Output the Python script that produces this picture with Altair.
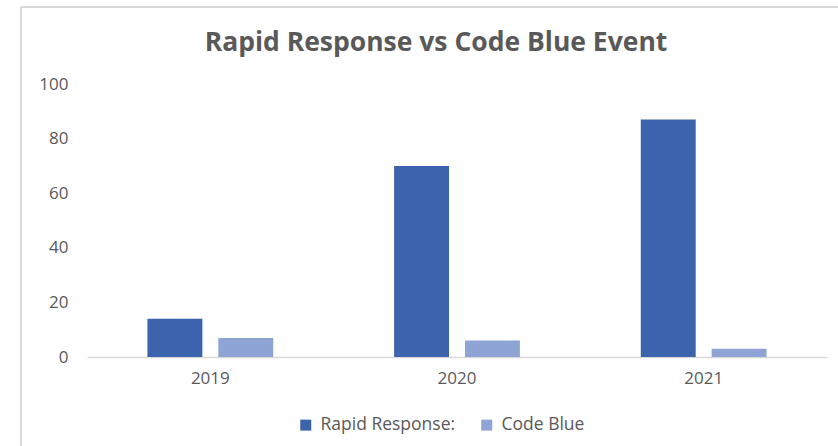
import altair as alt
import pandas as pd

# Yearly event counts
years = ["2019", "2020", "2021"]
rapid_response = [14, 70, 87]
code_blue = [7, 6, 3]
series_names = ["Rapid Response:", "Code Blue"]
series_colors = ["#3c64ac", "#8ea4d4"]

rows = []
for i, yr in enumerate(years):
    rows.append({"Year": yr, "Series": series_names[0], "Count": rapid_response[i]})
    rows.append({"Year": yr, "Series": series_names[1], "Count": code_blue[i]})
df = pd.DataFrame(rows)

FONT = "Open Sans"
GREY_TEXT = "#595959"
FRAME = "#d9d9d9"

bars = alt.Chart(df).mark_bar().encode(
    x=alt.X(
        "Year:N",
        sort=years,
        title=None,
        scale=alt.Scale(paddingInner=0.49, paddingOuter=0.245),
        axis=alt.Axis(
            labelAngle=0,
            ticks=False,
            domainColor=FRAME,
            domainWidth=1.5,
            labelColor=GREY_TEXT,
            labelFont=FONT,
            labelFontSize=17,
            labelPadding=13,
        ),
    ),
    xOffset=alt.XOffset(
        "Series:N",
        sort=series_names,
        scale=alt.Scale(paddingInner=0.225, paddingOuter=0),
    ),
    y=alt.Y(
        "Count:Q",
        title=None,
        scale=alt.Scale(domain=[0, 100]),
        axis=alt.Axis(
            values=[0, 20, 40, 60, 80, 100],
            grid=False,
            ticks=False,
            domain=False,
            labelColor=GREY_TEXT,
            labelFont=FONT,
            labelFontSize=17,
            labelPadding=19,
        ),
    ),
    color=alt.Color(
        "Series:N",
        sort=series_names,
        scale=alt.Scale(domain=series_names, range=series_colors),
        legend=alt.Legend(
            title=None,
            orient="none",
            legendX=210,
            legendY=332,
            direction="horizontal",
            symbolType="square",
            symbolSize=121,
            symbolStrokeWidth=0,
            labelFont=FONT,
            labelFontSize=17.5,
            labelColor=GREY_TEXT,
            labelOffset=6,
            columnPadding=22,
        ),
    ),
)

# Chart-area frame along the left and top edges
frame_left = alt.Chart(df).mark_rule(color=FRAME, strokeWidth=2).encode(
    x=alt.value(-66), y=alt.value(-77), y2=alt.value(370)
)
frame_top = alt.Chart(df).mark_rule(color=FRAME, strokeWidth=2).encode(
    x=alt.value(-66), x2=alt.value(760), y=alt.value(-77)
)

chart = (
    alt.layer(frame_left, frame_top, bars)
    .properties(
        width=740,
        height=273,
        background="white",
        autosize=alt.AutoSizeParams(type="none"),
        padding={"left": 87, "top": 84, "right": 11, "bottom": 89},
        title=alt.TitleParams(
            "Rapid Response vs Code Blue Event",
            font=FONT,
            fontSize=26.5,
            fontWeight="bold",
            color=GREY_TEXT,
            anchor="middle",
            dx=-21,
            offset=-50,
        ),
    )
    .configure_view(strokeWidth=0)
)

chart.save("out.html", embed_options={"renderer": "svg", "actions": False})
